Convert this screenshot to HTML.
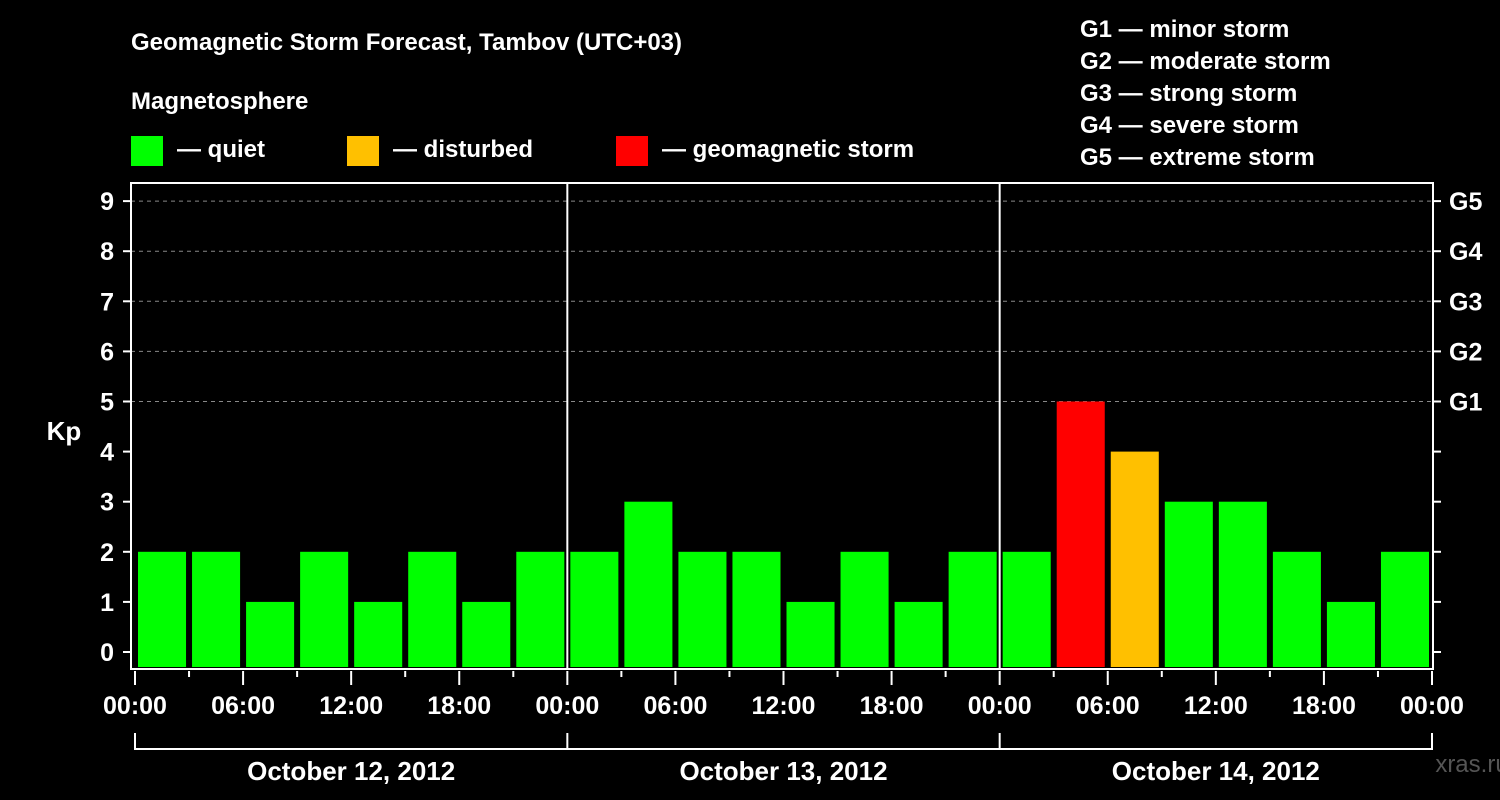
<!DOCTYPE html>
<html><head><meta charset="utf-8"><style>
html,body{margin:0;padding:0;background:#000;}
svg{display:block;font-family:"Liberation Sans",Arial,sans-serif;font-weight:bold;}
</style></head><body>
<svg id="chart" width="1500" height="800" viewBox="0 0 1500 800">
<rect width="1500" height="800" fill="#000"/>
<text x="131" y="50" fill="#fff" font-size="24">Geomagnetic Storm Forecast, Tambov (UTC+03)</text>
<text x="131" y="109" fill="#fff" font-size="24">Magnetosphere</text>
<g><rect x="131" y="136" width="32" height="30" fill="#00ff00"/><text x="177" y="157" fill="#fff" font-size="24">— quiet</text></g>
<g><rect x="347" y="136" width="32" height="30" fill="#ffc000"/><text x="393" y="157" fill="#fff" font-size="24">— disturbed</text></g>
<g><rect x="616" y="136" width="32" height="30" fill="#ff0000"/><text x="662" y="157" fill="#fff" font-size="24">— geomagnetic storm</text></g>
<g fill="#fff" font-size="24">
<text x="1080" y="37">G1 — minor storm</text>
<text x="1080" y="69">G2 — moderate storm</text>
<text x="1080" y="101">G3 — strong storm</text>
<text x="1080" y="133">G4 — severe storm</text>
<text x="1080" y="165">G5 — extreme storm</text>
</g>
<text x="64" y="440" fill="#fff" font-size="26" text-anchor="middle">Kp</text>
<text x="1472" y="772" fill="#555" font-size="24" text-anchor="middle" font-weight="normal">xras.ru</text>
<g id="marks"></g>
</svg>
<script>
const kpValues = [2,2,1,2,1,2,1,2, 2,3,2,2,1,2,1,2, 2,5,4,3,3,2,1,2];
const dayLabels = ["October 12, 2012","October 13, 2012","October 14, 2012"];
const hourLabels = ["00:00","06:00","12:00","18:00"];
const yTicks = [0,1,2,3,4,5,6,7,8,9];
const gLabels = ["G1","G2","G3","G4","G5"];

const NS="http://www.w3.org/2000/svg";
const g=document.getElementById('marks');
const X0=135, X1=1432, PL=131, PT=183, PB=669;
const step=(X1-X0)/kpValues.length;
const xs=i=>X0+i*step;
const ys=v=>652-v*50.1;
function mk(tag,attrs,parent){const e=document.createElementNS(NS,tag);for(const k in attrs)e.setAttribute(k,attrs[k]);(parent||g).appendChild(e);return e;}

// gridlines
yTicks.forEach(v=>{ if(v>=5){
 const l=mk('line',{x1:PL,x2:1433,y1:ys(v),y2:ys(v),stroke:'#888','stroke-dasharray':'4,4','stroke-width':1});
 
 
}});
// bars
kpValues.forEach((v,i)=>{
 const c=v>=5?'#ff0000':(v>=4?'#ffc000':'#00ff00');
 const r=mk('rect',{x:xs(i)+3,y:ys(v),width:step-6,height:PB-2-ys(v),fill:c});
 
 
});
// day separators
for(let d=1;d<3;d++){
 const l=mk('line',{x1:xs(d*8),x2:xs(d*8),y1:PT,y2:PB,stroke:'#fff','stroke-width':2});
 
 
}
// frame
const fr=mk('rect',{x:PL,y:PT,width:1433-PL,height:PB-PT,fill:'none',stroke:'#fff','stroke-width':2});


// y ticks
yTicks.forEach(v=>{
 mk('line',{x1:123,x2:PL,y1:ys(v),y2:ys(v),stroke:'#fff','stroke-width':2});
 mk('line',{x1:1433,x2:1441,y1:ys(v),y2:ys(v),stroke:'#fff','stroke-width':2});
 const t=mk('text',{x:114,y:ys(v)+9,fill:'#fff','font-size':25,'text-anchor':'end'});
 t.textContent=v;
 
 
});
gLabels.forEach((s,i)=>{
 const t=mk('text',{x:1449,y:ys(5+i)+9,fill:'#fff','font-size':25});
 t.textContent=s;
 
 
});
// x ticks
for(let i=0;i<=kpValues.length;i++){
 const major=i%2===0;
 mk('line',{x1:xs(i),x2:xs(i),y1:PB+2,y2:major?PB+16:PB+8,stroke:'#fff','stroke-width':2});
 if(major){
  const t=mk('text',{x:xs(i),y:714,fill:'#fff','font-size':25,'text-anchor':'middle'});
  t.textContent=hourLabels[(i/2)%4];
  
  
 }
}
// day brackets
dayLabels.forEach((s,d)=>{
 const a=xs(d*8),b=xs(d*8+8);
 mk('line',{x1:a,x2:b,y1:749,y2:749,stroke:'#fff','stroke-width':2});
 mk('line',{x1:a,x2:a,y1:733,y2:750,stroke:'#fff','stroke-width':2});
 if(d===2) mk('line',{x1:b,x2:b,y1:733,y2:750,stroke:'#fff','stroke-width':2});
 const t=mk('text',{x:(a+b)/2,y:780,fill:'#fff','font-size':26,'text-anchor':'middle'});
 t.textContent=s;
 
 
});
</script>
</body></html>
